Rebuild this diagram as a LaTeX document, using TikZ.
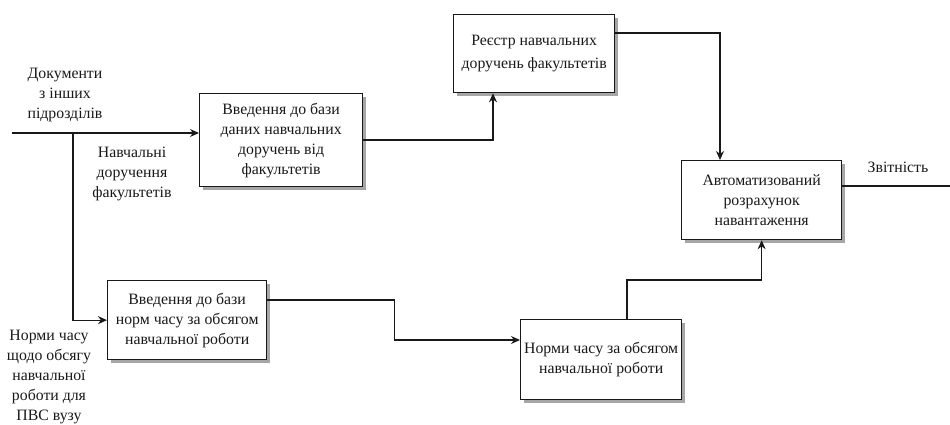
\documentclass[tikz,border=0pt]{standalone}
\usepackage{fontspec}
\setmainfont{Liberation Serif}
\usetikzlibrary{arrows.meta}
\begin{document}
\begin{tikzpicture}[x=1pt,y=-1pt,
  every node/.style={font=\fontsize{15.8}{20}\selectfont, text=black!90},
  proc/.style={draw=black!90, line width=1.3pt, fill=white, align=center,
    inner sep=0pt, anchor=north west, minimum width=160pt,
    preaction={draw=none, fill=black!35, transform canvas={xshift=3.5pt, yshift=-3.5pt}}},
  lbl/.style={align=center, inner sep=0pt},
  flow/.style={draw=black!90, line width=1.3pt, -{Stealth[length=9pt,width=8pt]}}]
\useasboundingbox (0,0) rectangle (950,425);
\clip (0,0) rectangle (950,425);

% process boxes
\node[proc, minimum width=163pt, minimum height=93pt] (enter) at (199,93)
  {Введення до бази\\даних навчальних\\доручень від\\факультетів};
\node[proc, minimum width=161pt, minimum height=78pt,
  font=\fontsize{15.8}{23}\selectfont] (reg) at (453,14)
  {Реєстр навчальних\\доручень факультетів};
\node[proc, minimum height=79pt] (calc) at (681,160)
  {Автоматизований\\розрахунок\\навантаження};
\node[proc, minimum width=159pt, minimum height=79pt] (nt) at (107,280)
  {Введення до бази\\норм часу за обсягом\\навчальної роботи};
\node[proc, minimum width=161pt, minimum height=80pt] (nc) at (520,319)
  {Норми часу за обсягом\\навчальної роботи};

% free ends
\coordinate (docin) at (12,133);
\coordinate (branch) at (73,133);
\coordinate (report) at (962,186);

% labels
\node[lbl] (ldocs) at (65,95) {Документи\\з інших\\підрозділів};
\node[lbl] (lassign) at (132,174) {Навчальні\\доручення\\факультетів};
\node[lbl] (lnorms) at (49,377) {Норми часу\\щодо обсягу\\навчальної\\роботи для\\ПВС вузу};
\node[lbl] (lrep) at (898,167) {Звітність};

% connectors
\draw[flow] (docin) -- (docin -| enter.west);
\draw[flow] (branch) |- (nt.west);
\draw[flow] (enter.east) -| ([xshift=40pt]reg.south west);
\draw[flow] ([yshift=-19pt]reg.north east) -| ([xshift=39pt]calc.north west);
\draw[flow] ([xshift=107pt]nc.north west) -- ++(0,-39) -| (calc.south);
\draw[flow] ([yshift=-20pt]nt.north east) -- ++(127,0) |- ([yshift=-21pt]nc.north west);
\draw[flow] ([yshift=-26pt]calc.north east) -- (report);
\end{tikzpicture}
\end{document}
